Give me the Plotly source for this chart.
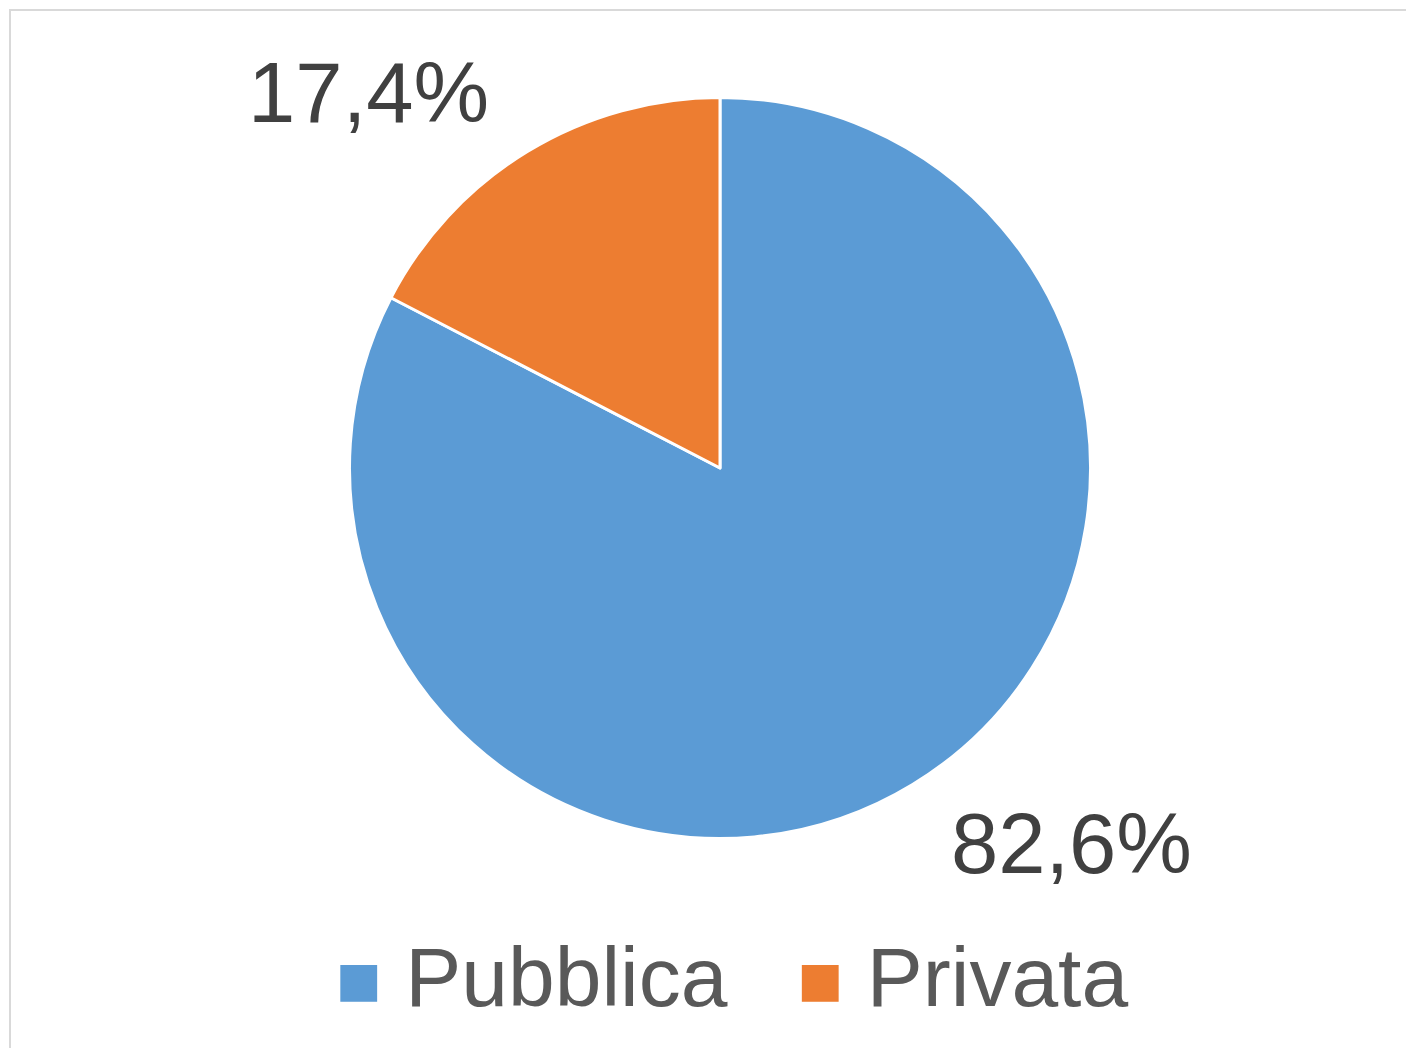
import plotly.graph_objects as go

# data
categories = ["Pubblica", "Privata"]
shares = [82.6, 17.4]
colors = ["#5b9bd5", "#ed7d31"]
share_labels = ["82,6%", "17,4%"]

W, H = 1414, 1048
OFF = 8  # page body margin shifts the figure by 8px
CX, CY, R = 712, 460, 370.5  # pie centre / half-size in figure pixels
LABEL_PAD = 28  # extra distance of the percentage labels from the pie edge


def square_domain(half):
    return dict(
        x=[(CX - half) / W, (CX + half) / W],
        y=[1 - (CY + half) / H, 1 - (CY - half) / H],
    )


common = dict(
    labels=categories,
    values=shares,
    sort=False,
    direction="clockwise",
    rotation=0,
    showlegend=False,
)

fig = go.Figure()

# visible pie
fig.add_trace(
    go.Pie(
        **common,
        textinfo="none",
        marker=dict(colors=colors, line=dict(color="white", width=3)),
        domain=square_domain(R),
    )
)

# transparent, slightly larger pie that only carries the outside labels
fig.add_trace(
    go.Pie(
        **common,
        text=share_labels,
        textinfo="text",
        textposition="outside",
        hoverinfo="skip",
        marker=dict(colors=["rgba(0,0,0,0)"] * len(categories), line=dict(width=0)),
        outsidetextfont=dict(family="Liberation Sans, Arial", size=85, color="#404040"),
        domain=square_domain(R + LABEL_PAD),
    )
)

# outer chart-area frame
fig.add_shape(
    type="rect", xref="paper", yref="paper",
    x0=(10 - OFF) / W, x1=1.05, y0=-0.05, y1=1 - (10 - OFF) / H,
    line=dict(color="#d9d9d9", width=2),
)

# legend: coloured squares + category names
legend_parts = [
    f'<span style="color:{c};font-size:76px">■</span>\u00a0{name}'
    for name, c in zip(categories, colors)
]
fig.add_annotation(
    text="\u00a0\u00a0\u00a0".join(legend_parts),
    xref="paper", yref="paper",
    x=(732 - OFF) / W, y=1 - (977 - OFF) / H,
    xanchor="center", yanchor="middle",
    showarrow=False,
    font=dict(family="Liberation Sans, Arial", size=84, color="#595959"),
)

fig.update_layout(
    width=W,
    height=H,
    margin=dict(l=0, r=0, t=0, b=0, autoexpand=False),
    paper_bgcolor="white",
    plot_bgcolor="white",
)

fig.write_html("out.html")
